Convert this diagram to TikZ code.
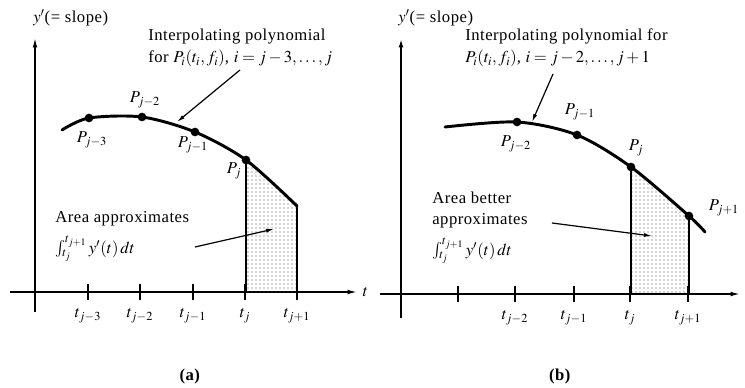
\documentclass[tikz,border=0pt]{standalone}
\usepackage{mathptmx}
\usepackage[no-math]{fontspec}
\setmainfont[LetterSpace=3]{Liberation Serif}
\usepackage{tikz}
\usetikzlibrary{arrows.meta,patterns}

\begin{document}
\begin{tikzpicture}[x=0.75pt,y=-0.75pt,font=\fontsize{12.5}{15.5}\selectfont,>=Latex,
  axis/.style={line width=1.1pt,-{Latex[length=7pt,width=3.5pt]}},
  tick/.style={line width=0.9pt},
  poly/.style={line width=2.2pt,line cap=round},
  knot/.style={circle,fill,inner sep=0pt,minimum size=6.5pt},
  note/.style={align=left,inner sep=0pt,anchor=north west},
  pointer/.style={line width=0.9pt,-{Latex[length=6pt,width=3pt]}},
  area/.style={pattern=dots,pattern color=black!75}]
\useasboundingbox (0,0) rectangle (745,388);

% ---- (a) extrapolating polynomial
\coordinate (oa) at (35,292);
\draw[axis] (35,312) -- (35,38);
\draw[axis] (10,292) -- (357,292);
\node[anchor=west] (ta) at (358,292) {$t$};
\node[anchor=west,inner sep=0pt] (ya) at (33,18) {$y'$(= slope)};
\foreach \x/\s in {88/{j-3},140/{j-2},193/{j-1},245/{j},297/{j+1}} {
  \draw[tick] (\x,284) -- (\x,300);
  \node (tka\x) at (\x,316) {$t_{\s}$};
}
\coordinate (Pa0) at (62,130);
\coordinate (Pa1) at (89,118);
\coordinate (Pa2) at (142,117);
\coordinate (Pa3) at (195,132);
\coordinate (Pa4) at (246,160);
\coordinate (Pa5) at (297,206);
\begin{scope}
  \clip (246,100) rectangle (297,292);
  \fill[area] plot[smooth] coordinates {(Pa0) (Pa1) (Pa2) (Pa3) (Pa4) (Pa5)}
    -- (297,292) -- (62,292) -- cycle;
\end{scope}
\draw[line width=1.1pt] (Pa4) -- (Pa4 |- oa);
\draw[line width=1.9pt] (Pa5) -- (Pa5 |- oa);
\draw[poly] plot[smooth] coordinates {(Pa0) (Pa1) (Pa2) (Pa3) (Pa4) (Pa5)};
\foreach \i in {1,...,4} \node[knot] (ka\i) at (Pa\i) {};
\node (la1) at (92,140) {$P_{j-3}$};
\node (la2) at (145,100) {$P_{j-2}$};
\node (la3) at (193,145) {$P_{j-1}$};
\node (la4) at (234,171) {$P_j$};

\node[note] (inta) at (148,29) {Interpolating polynomial};
\node[note] (inta1) at (148,50) {for $P_i(t_i,f_i)$, $i=j-3,\ldots,j$};
\coordinate (fromA) at (240,70);
\coordinate (hitA) at (177,122);
\draw[pointer] (fromA) -- (hitA);
\node[note] (areaa) at (55,211) {Area approximates};
\node[note] (inta2) at (55,236) {$\int_{t_j}^{t_{j+1}}y'(t)\,dt$};
\coordinate (fromAa) at (195,247);
\coordinate (hitAa) at (274,229);
\draw[pointer] (fromAa) -- (hitAa);
\node (capa) at (190,376) {\textbf{(a)}};

% ---- (b) interpolating polynomial
\coordinate (ob) at (401,294);
\draw[axis,line width=2pt] (401,318) -- (401,38);
\draw[axis] (380,294) -- (740,294);
\node[anchor=west,inner sep=0pt] (yb) at (398,18) {$y'$(= slope)};
\draw[tick] (458,286) -- (458,302);
\foreach \x/\s in {515/{j-2},574/{j-1},630/{j},688/{j+1}} {
  \draw[tick] (\x,286) -- (\x,302);
  \node (tkb\x) at (\x,318) {$t_{\s}$};
}
\coordinate (Pb0) at (445,127);
\coordinate (Pb1) at (517,122);
\coordinate (Pb2) at (577,135);
\coordinate (Pb3) at (631,167);
\coordinate (Pb4) at (689,216);
\coordinate (Pb5) at (705,232);
\begin{scope}
  \clip (631,100) rectangle (689,294);
  \fill[area] plot[smooth] coordinates {(Pb0) (Pb1) (Pb2) (Pb3) (Pb4) (Pb5)}
    -- (705,294) -- (445,294) -- cycle;
\end{scope}
\draw[line width=1.1pt] (Pb3) -- (Pb3 |- ob);
\draw[line width=1.9pt] (Pb4) -- (Pb4 |- ob);
\draw[poly] plot[smooth] coordinates {(Pb0) (Pb1) (Pb2) (Pb3) (Pb4) (Pb5)};
\foreach \i in {1,...,4} \node[knot] (kb\i) at (Pb\i) {};
\node (lb1) at (516,144) {$P_{j-2}$};
\node (lb2) at (580,112) {$P_{j-1}$};
\node (lb3) at (636,148) {$P_j$};
\node (lb4) at (724,208) {$P_{j+1}$};

\node[note] (intb) at (465,29) {Interpolating polynomial for};
\node[note] (intb1) at (465,50) {$P_i(t_i,f_i)$, $i=j-2,\ldots,j+1$};
\coordinate (fromB) at (553,74);
\coordinate (hitB) at (532,122);
\draw[pointer] (fromB) -- (hitB);
\node[note] (areab) at (432,192) {Area better\\approximates};
\node[note] (intb2) at (432,238) {$\int_{t_j}^{t_{j+1}}y'(t)\,dt$};
\coordinate (fromBb) at (552,223);
\coordinate (hitBb) at (652,236);
\draw[pointer] (fromBb) -- (hitBb);
\node (capb) at (560,376) {\textbf{(b)}};
\end{tikzpicture}
\end{document}
